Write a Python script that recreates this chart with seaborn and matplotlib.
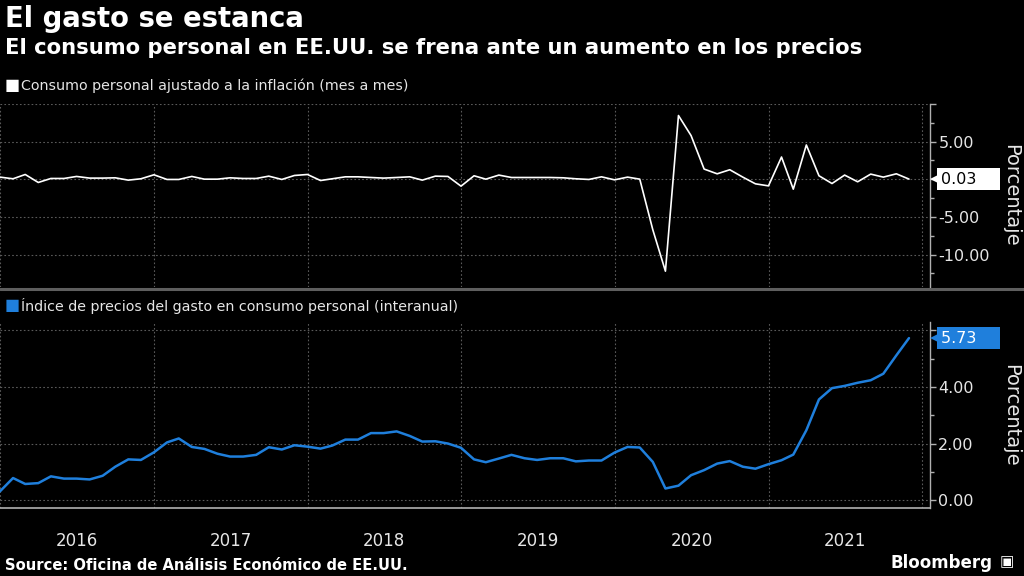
import pandas as pd
import numpy as np
import matplotlib
matplotlib.use('Agg')
import matplotlib.pyplot as plt
import matplotlib.dates as mdates
import seaborn as sns

# ── Data ──────────────────────────────────────────────────────────────────────
fechas = pd.date_range('2015-12-31', periods=72, freq='ME')

# Consumo personal ajustado a la inflación (mes a mes, %)
consumo = [0.29, 0.07, 0.64, -0.42, 0.11, 0.11, 0.38, 0.16, 0.16, 0.20, -0.11, 0.07,
           0.60, -0.02, -0.02, 0.38, 0.02, 0.02, 0.20, 0.11, 0.11, 0.42, -0.02, 0.51,
           0.64, -0.16, 0.07, 0.33, 0.33, 0.24, 0.16, 0.24, 0.33, -0.11, 0.42, 0.38,
           -0.91, 0.47, 0.02, 0.56, 0.24, 0.24, 0.24, 0.24, 0.20, 0.07, -0.02, 0.33,
           -0.07, 0.29, 0.02, -6.70, -12.20, 8.47, 5.80, 1.36, 0.73, 1.27, 0.29, -0.60,
           -0.87, 2.96, -1.31, 4.56, 0.47, -0.56, 0.56, -0.33, 0.69, 0.29, 0.73, 0.03]

# Índice de precios PCE (interanual, %)
pce = [0.31, 0.78, 0.57, 0.60, 0.84, 0.76, 0.76, 0.73, 0.86, 1.18, 1.44, 1.42,
       1.69, 2.04, 2.18, 1.88, 1.81, 1.64, 1.54, 1.54, 1.60, 1.87, 1.79, 1.94,
       1.89, 1.82, 1.93, 2.14, 2.14, 2.37, 2.37, 2.43, 2.27, 2.07, 2.08, 2.00,
       1.85, 1.44, 1.34, 1.47, 1.60, 1.48, 1.42, 1.48, 1.48, 1.37, 1.40, 1.40,
       1.68, 1.88, 1.86, 1.35, 0.41, 0.51, 0.88, 1.06, 1.29, 1.38, 1.18, 1.11,
       1.27, 1.41, 1.61, 2.47, 3.56, 3.96, 4.04, 4.15, 4.24, 4.47, 5.12, 5.73]

years = ['2016', '2017', '2018', '2019', '2020', '2021']

top_ticks = [-10, -5, 0, 5, 10]
top_labels = ['-10.00', '-5.00', '', '5.00', '']
bot_ticks = [0, 2, 4, 6]
bot_labels = ['0.00', '2.00', '4.00', '']

df = pd.DataFrame({'fecha': fechas, 'consumo': consumo, 'pce': pce})

# ── Style ─────────────────────────────────────────────────────────────────────
BG = '#000000'
GRID = '#5a5a5a'
AXC = '#b0b0b0'
TXT = '#e6e6e6'
BLUE = '#1f7fdc'

sns.set_theme(style='dark', rc={
    'figure.facecolor': BG, 'axes.facecolor': BG, 'savefig.facecolor': BG,
    'text.color': TXT, 'axes.labelcolor': TXT,
    'xtick.color': AXC, 'ytick.color': AXC,
})
plt.rcParams['font.family'] = ['DejaVu Sans']

fig = plt.figure(figsize=(10.24, 5.76), dpi=100)
W, H = 1024, 576

def px_axes(x0, y0, x1, y1):
    return fig.add_axes([x0 / W, 1 - y1 / H, (x1 - x0) / W, (y1 - y0) / H])

ax1 = px_axes(0, 104, 930, 287)
ax2 = px_axes(0, 322, 930, 508)

xmin, xmax = pd.Timestamp('2015-12-31'), pd.Timestamp('2022-01-19')

sns.lineplot(data=df, x='fecha', y='consumo', ax=ax1, color='white', linewidth=1.2)
sns.lineplot(data=df, x='fecha', y='pce', ax=ax2, color=BLUE, linewidth=1.8)

for ax in (ax1, ax2):
    ax.set_xlim(xmin, xmax)
    ax.set_xlabel('')
    ax.set_facecolor(BG)
    ax.xaxis.set_major_locator(mdates.YearLocator())
    ax.xaxis.set_minor_locator(mdates.MonthLocator(bymonth=[4, 7, 10]))
    ax.yaxis.tick_right()
    ax.grid(True, which='major', linestyle=(0, (1.5, 2)), color=GRID, linewidth=0.8)
    for s in ('top', 'left'):
        ax.spines[s].set_visible(False)
    ax.spines['right'].set_color(AXC)
    ax.spines['right'].set_linewidth(1.0)
    ax.tick_params(axis='y', which='major', direction='out', length=4, width=1,
                   colors=AXC, labelcolor=TXT, labelsize=11.5, pad=2)
    ax.tick_params(axis='y', which='minor', direction='out', length=3, width=1,
                   colors=AXC, left=False, right=True)
    ax.set_ylabel('Porcentaje', rotation=270, fontsize=14, color=TXT,
                  va='center', ha='center')
    ax.yaxis.set_label_coords(1011 / 930, 0.5)

# top panel
ax1.set_ylim(-14.3, 10.0)
ax1.set_yticks(top_ticks)
ax1.set_yticklabels(top_labels)
ax1.set_yticks([-12.5, -7.5, -2.5, 2.5, 7.5], minor=True)
ax1.spines['bottom'].set_visible(False)
ax1.tick_params(axis='x', which='both', length=0, labelbottom=False)

# bottom panel
ax2.set_ylim(-0.28, 6.3)
ax2.set_yticks(bot_ticks)
ax2.set_yticklabels(bot_labels)
ax2.set_yticks([1, 3, 5], minor=True)
ax2.spines['bottom'].set_color(AXC)
ax2.spines['bottom'].set_linewidth(1.2)
ax2.tick_params(axis='x', which='major', direction='out', length=32, width=1,
                colors='#8a8a8a', labelbottom=False)
ax2.tick_params(axis='x', which='minor', direction='out', length=3, width=1,
                colors=AXC, labelbottom=False)
for y in years:
    ax2.text(mdates.date2num(pd.Timestamp(f'{y}-07-01')), -0.178, y,
             transform=ax2.get_xaxis_transform(), ha='center', va='center',
             fontsize=12, color=TXT)

# last-value tags
def tag_box(ax, val, fc, tc):
    tr = ax.get_yaxis_transform()
    ax.plot([937 / 930], [val], marker='<', ms=10, color=fc, transform=tr,
            clip_on=False, zorder=5, markeredgewidth=0)
    ax.annotate(f'{val:.2f}' + ' ' * 4, xy=(1.0, val), xycoords=tr,
                xytext=(7.8, 0), textcoords='offset points', va='center', ha='left',
                fontsize=11.5, color=tc, annotation_clip=False, zorder=6,
                bbox=dict(boxstyle='square,pad=0.22', fc=fc, ec='none'))

tag_box(ax1, consumo[-1], 'white', 'black')
tag_box(ax2, pce[-1], BLUE, 'white')

# ── Titles, legends, footer ───────────────────────────────────────────────────
fig.text(5 / W, 1 - 19 / H, 'El gasto se estanca', fontsize=19.8, fontweight='bold',
         color='white', va='center', ha='left')
fig.text(5 / W, 1 - 48 / H, 'El consumo personal en EE.UU. se frena ante un aumento en los precios',
         fontsize=15.2, fontweight='bold', color='white', va='center', ha='left')

fig.text(5 / W, 1 - 86 / H, '■', fontsize=11.5, color='white', va='center', ha='left')
fig.text(21 / W, 1 - 86 / H, 'Consumo personal ajustado a la inflación (mes a mes)',
         fontsize=10.3, color=TXT, va='center', ha='left')
fig.text(5 / W, 1 - 306 / H, '■', fontsize=11.5, color=BLUE, va='center', ha='left')
fig.text(21 / W, 1 - 306 / H, 'Índice de precios del gasto en consumo personal (interanual)',
         fontsize=10.3, color=TXT, va='center', ha='left')

fig.add_artist(plt.Line2D([0, 1], [1 - 289 / H, 1 - 289 / H], transform=fig.transFigure,
                          color='#5e5e5e', linewidth=2.2))

fig.text(5 / W, 1 - 565 / H, 'Source: Oficina de Análisis Económico de EE.UU.',
         fontsize=10.6, fontweight='bold', color='white', va='center', ha='left')
fig.text(992 / W, 1 - 563 / H, 'Bloomberg', fontsize=12, fontweight='bold',
         color='white', va='center', ha='right')
fig.text(1000 / W, 1 - 562 / H, '▣', fontsize=11, color='white', va='center', ha='left')

fig.savefig('out.png', dpi=100, facecolor=BG)
plt.close()
